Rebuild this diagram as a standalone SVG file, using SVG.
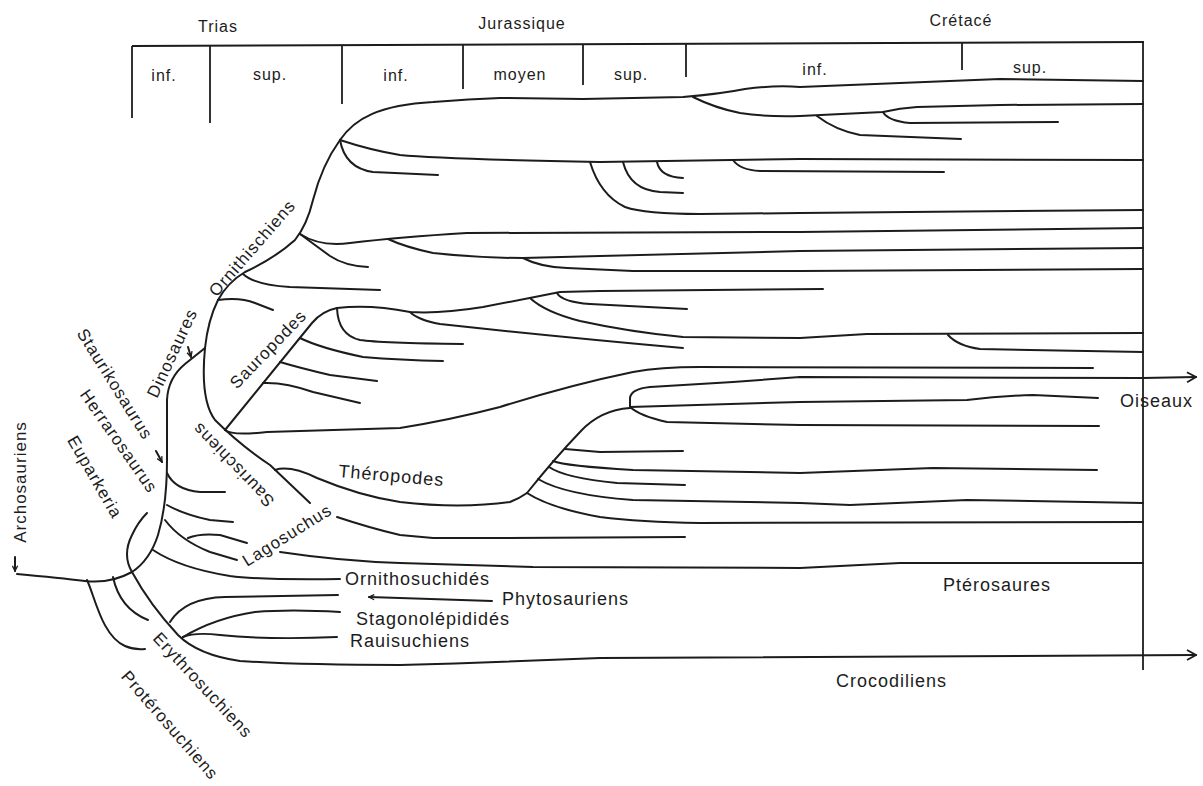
<svg xmlns="http://www.w3.org/2000/svg" width="1203" height="786" viewBox="0 0 1203 786">
<defs>
<style>
.c path{fill:none;stroke:#1c1c1c;stroke-width:2;stroke-linecap:round;stroke-linejoin:round}
.t path{fill:none;stroke:#1c1c1c;stroke-width:1.8;stroke-linecap:butt}
text{font-family:"Liberation Sans",Arial,sans-serif;fill:#1c1c1c}
.h{font-size:16px;letter-spacing:1px;text-anchor:middle}
.l{font-size:18px;letter-spacing:1px}
.r{font-size:17px;letter-spacing:1px;text-anchor:middle}
</style>
<marker id="ah" viewBox="0 0 12 12" refX="11" refY="6" markerWidth="12" markerHeight="12" markerUnits="userSpaceOnUse" orient="auto"><path d="M2,1 L11,6 L2,11" fill="none" stroke="#1c1c1c" stroke-width="1.8"/></marker>
<marker id="sa" viewBox="0 0 8 8" refX="7" refY="4" markerWidth="7" markerHeight="7" markerUnits="userSpaceOnUse" orient="auto"><path d="M1,1 L7,4 L1,7" fill="none" stroke="#1c1c1c" stroke-width="1.5"/></marker>
</defs>
<rect width="1203" height="786" fill="#ffffff"/>

<g id="timescale" class="t">
<path d="M132,46 L1144,42"/>
<path d="M132,46 L132,118"/>
<path d="M210,46 L210,123"/>
<path d="M342,45 L342,104"/>
<path d="M463,45 L463,89"/>
<path d="M583,44 L583,85"/>
<path d="M686,44 L686,77"/>
<path d="M962,43 L962,70"/>
<path d="M1143,42 L1143,670"/>
</g>
<g id="periods">
<text class="h" x="218" y="32">Trias</text>
<text class="h" x="522" y="29">Jurassique</text>
<text class="h" x="961" y="26">Crétacé</text>
<text class="h" x="164" y="81">inf.</text>
<text class="h" x="270" y="80">sup.</text>
<text class="h" x="396" y="81">inf.</text>
<text class="h" x="520" y="80">moyen</text>
<text class="h" x="631" y="80">sup.</text>
<text class="h" x="815" y="75">inf.</text>
<text class="h" x="1030" y="73">sup.</text>
</g>

<g id="connectors" class="c">
<path d="M17,574 Q60,578 85,581 T132,572"/>
<path d="M87,580 C95,597 102,636 125,646 Q134,650 145,649"/>
<path d="M113,577 C117,596 128,612 148,620"/>
<path d="M132,572 Q150,605 178,635 Q198,655 240,661 Q300,665 400,665 Q500,662 600,658 L1196,655" marker-end="url(#ah)"/>
<path d="M170,622 Q185,598 225,597 L338,595"/>
<path d="M183,637 Q215,618 255,612 Q290,609 340,612"/>
<path d="M183,637 Q195,632 220,635 Q270,640 337,637"/>
<path d="M132,572 Q122,555 132,535 Q138,522 147,513"/>
<path d="M132,572 Q150,560 158,535 Q167,505 167,460 L167,400 Q168,378 185,364 L205,348"/>
<path d="M153,550 Q180,568 230,576 Q260,580 340,579"/>
<path d="M165,520 Q180,540 210,552 L237,560"/>
<path d="M188,538 Q200,533 220,535 L247,543"/>
<path d="M167,505 Q185,515 210,520 L233,522"/>
<path d="M167,473 Q175,490 200,492 L225,492"/>
<path d="M205,348 Q200,400 215,420 Q240,445 270,465 L310,503"/>
<path d="M205,348 Q208,320 218,300 Q228,282 245,272 Q275,258 295,240 Q307,225 313,200 Q322,165 340,140"/>
<path d="M340,140 C355,118 380,105 433,102 Q470,99 500,98 L583,99 L683,97 Q720,94 745,89 Q775,85 800,87 L900,83 L1000,79 L1143,81"/>
<path d="M693,97 Q715,108 740,113 Q765,117 800,116 L883,112 Q900,108 917,107 L1000,105 L1143,104"/>
<path d="M817,116 Q835,130 860,135 L961,139"/>
<path d="M883,112 Q888,121 910,123 L1058,122"/>
<path d="M340,140 Q370,150 400,155 Q440,159 600,162 L800,159 L1143,160"/>
<path d="M340,140 Q345,168 373,172 L438,175"/>
<path d="M590,162 Q600,195 625,207 Q645,214 700,214 L800,213 L1143,210"/>
<path d="M623,162 Q630,190 660,192 L683,193"/>
<path d="M657,162 Q660,177 683,178"/>
<path d="M733,160 Q740,170 760,171 L944,172"/>
<path d="M218,300 Q240,297 255,303 L273,310"/>
<path d="M243,274 Q255,285 290,287 L380,290"/>
<path d="M300,234 Q320,247 350,243 Q400,237 467,233 L800,232 L1143,228"/>
<path d="M300,234 Q315,245 330,256 Q345,266 368,267"/>
<path d="M388,239 Q405,247 433,253 Q480,258 523,258 L600,256 L800,251 L1143,248"/>
<path d="M523,258 Q540,267 567,268 L633,271 L800,271 L1143,269"/>
<path d="M225,430 L312,323 Q322,311 337,308"/>
<path d="M337,308 Q370,304 410,312 Q440,314 483,307 Q520,300 560,292 L600,291 L823,289"/>
<path d="M337,308 Q338,335 360,340 Q380,343 463,344"/>
<path d="M410,312 Q418,320 440,324 Q550,336 683,348"/>
<path d="M530,298 Q545,312 580,321 Q630,332 683,337 L800,338 L867,334 L1143,333"/>
<path d="M948,335 Q958,346 980,349 L1143,352"/>
<path d="M557,293 Q562,302 590,304 L687,309"/>
<path d="M300,338 Q320,348 363,357 Q400,360 443,361"/>
<path d="M280,362 Q300,368 330,375 L377,381"/>
<path d="M263,383 Q285,382 313,392 L360,403"/>
<path d="M225,430 Q232,436 267,432 L400,428 Q450,420 500,407 Q570,385 633,372 Q660,367 700,367 L1093,368"/>
<path d="M275,470 Q290,465 317,478 Q360,496 400,502 Q460,509 510,502 Q520,498 527,493 Q555,458 580,432 Q600,410 630,408"/>
<path d="M630,408 L630,398 Q631,389 650,387 L733,382 L800,377 L1143,378 L1196,377" marker-end="url(#ah)"/>
<path d="M630,407 L800,402 L967,400 Q1000,396 1033,395 L1098,398"/>
<path d="M630,407 Q640,416 667,422 L800,425 L1099,426"/>
<path d="M565,449 L600,452 L683,451"/>
<path d="M553,461 Q565,466 633,470 L800,473 L933,468 L1097,470"/>
<path d="M549,467 Q565,478 617,483 L685,485"/>
<path d="M538,479 Q565,495 633,500 L800,503 L850,505 L967,500 L1143,503"/>
<path d="M527,493 Q550,508 600,517 Q640,522 700,523 L1143,522"/>
<path d="M337,517 Q370,528 400,535 L433,538 L500,538 L685,537"/>
<path d="M280,552 Q340,561 400,563 L533,567 L800,568 L900,563 L1143,563"/>
<path d="M492,601 L369,597" stroke-width="1.6" marker-end="url(#sa)"/>
<path d="M15,557 L15,571" stroke-width="1.6" marker-end="url(#sa)"/>
<path d="M188,347 L191,357" stroke-width="1.6" marker-end="url(#sa)"/>
<path d="M156,451 L162,462" stroke-width="1.6" marker-end="url(#sa)"/>
</g>

<g id="n-archosauriens"><text class="r" transform="translate(20,482) rotate(-90)" dy="0.35em">Archosauriens</text></g>
<g id="n-euparkeria"><text class="r" transform="translate(95,477) rotate(60)" dy="0.35em">Euparkeria</text></g>
<g id="n-herrarosaurus"><text class="r" transform="translate(119,441) rotate(55)" dy="0.35em">Herrarosaurus</text></g>
<g id="n-staurikosaurus"><text class="r" transform="translate(115,384) rotate(58)" dy="0.35em">Staurikosaurus</text></g>
<g id="n-dinosaures"><text class="r" transform="translate(172,353) rotate(-65)" dy="0.35em">Dinosaures</text></g>
<g id="n-ornithischiens"><text class="r" transform="translate(252,248) rotate(-49)" dy="0.35em">Ornithischiens</text></g>
<g id="n-sauropodes"><text class="r" transform="translate(268,349) rotate(-46)" dy="0.35em">Sauropodes</text></g>
<g id="n-saurischiens"><text class="r" transform="translate(233,465) rotate(-134)" dy="0.35em">Saurischiens</text></g>
<g id="n-lagosuchus"><text class="r" transform="translate(287,535) rotate(-32)" dy="0.35em">Lagosuchus</text></g>
<g id="n-erythrosuchiens"><text class="r" transform="translate(203,685) rotate(47)" dy="0.35em">Erythrosuchiens</text></g>
<g id="n-proterosuchiens"><text class="r" transform="translate(170,725) rotate(49)" dy="0.35em">Protérosuchiens</text></g>
<g id="n-theropodes"><text class="l" font-size="17" transform="translate(338,477) rotate(5)">Théropodes</text></g>
<g id="n-oiseaux"><text class="l" x="1120" y="407">Oiseaux</text></g>
<g id="n-pterosaures"><text class="l" x="943" y="591">Ptérosaures</text></g>
<g id="n-crocodiliens"><text class="l" x="836" y="687">Crocodiliens</text></g>
<g id="n-ornithosuchides"><text class="l" x="345" y="585">Ornithosuchidés</text></g>
<g id="n-phytosauriens"><text class="l" x="502" y="605">Phytosauriens</text></g>
<g id="n-stagonolepidides"><text class="l" x="356" y="625">Stagonolépididés</text></g>
<g id="n-rauisuchiens"><text class="l" x="350" y="647">Rauisuchiens</text></g>
</svg>
